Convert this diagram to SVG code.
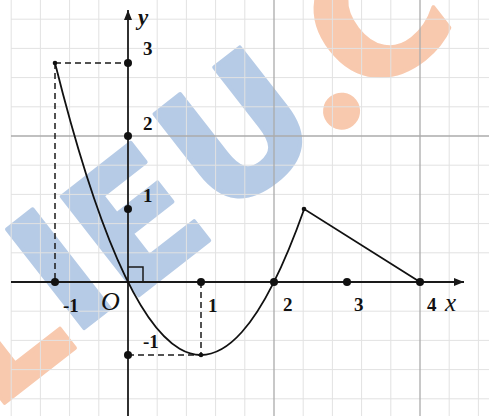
<svg xmlns="http://www.w3.org/2000/svg" width="489" height="416" viewBox="0 0 489 416">
<style>
.minor{stroke:#e2e2e2;stroke-width:1}
.major{stroke:#ababab;stroke-width:1.3}
.axis{stroke:#1a1a1a;stroke-width:1.8;fill:none}
.dash{stroke:#1a1a1a;stroke-width:1.5;stroke-dasharray:6 4;fill:none}
.curve{stroke:#111;stroke-width:1.8;fill:none}
.num{font-family:"Liberation Serif",serif;font-weight:bold;font-size:19px;fill:#111}
.it{font-family:"Liberation Serif",serif;font-style:italic;fill:#111}
.wm{font-family:"DejaVu Sans","Liberation Sans",sans-serif;font-weight:bold;font-size:172px;stroke-width:4;stroke-linejoin:round;text-anchor:middle}
.b{fill:#b6cbe6;stroke:#b6cbe6}
.o{fill:#f8c9ae;stroke:#f8c9ae}
</style>
<defs>
<marker id="arr" viewBox="0 0 10 8" refX="10" refY="4" markerWidth="10" markerHeight="8" markerUnits="userSpaceOnUse" orient="auto">
<path d="M0,0 L10,4 L0,8 Z" fill="#1a1a1a"/>
</marker>
</defs>
<rect width="489" height="416" fill="#fff"/>
<g id="watermark" transform="translate(97,318) rotate(-38)">
<text class="wm o" x="-31" y="10" style="text-anchor:end">L</text>
<text class="wm b" x="0" y="0">I</text>
<text class="wm b" x="90" y="8">E</text>
<text class="wm b" x="225" y="0">U</text>
<text class="wm o" x="320" y="2" style="font-family:'Liberation Serif',serif;font-size:215px;stroke-width:2">.</text>
<text class="wm o" x="341" y="-5" style="text-anchor:start">C</text>
</g>
<g id="grid">
<g class="minor">
<line x1="11.2" y1="0" x2="11.2" y2="416"/><line x1="40.4" y1="0" x2="40.4" y2="416"/><line x1="69.6" y1="0" x2="69.6" y2="416"/><line x1="98.8" y1="0" x2="98.8" y2="416"/>
<line x1="157.2" y1="0" x2="157.2" y2="416"/><line x1="186.4" y1="0" x2="186.4" y2="416"/><line x1="215.6" y1="0" x2="215.6" y2="416"/><line x1="244.8" y1="0" x2="244.8" y2="416"/>
<line x1="303.2" y1="0" x2="303.2" y2="416"/><line x1="332.4" y1="0" x2="332.4" y2="416"/><line x1="361.6" y1="0" x2="361.6" y2="416"/><line x1="390.8" y1="0" x2="390.8" y2="416"/>
<line x1="449.2" y1="0" x2="449.2" y2="416"/><line x1="478.4" y1="0" x2="478.4" y2="416"/>
<line x1="11" y1="19.2" x2="489" y2="19.2"/><line x1="11" y1="48.4" x2="489" y2="48.4"/><line x1="11" y1="77.6" x2="489" y2="77.6"/><line x1="11" y1="106.8" x2="489" y2="106.8"/>
<line x1="11" y1="165.2" x2="489" y2="165.2"/><line x1="11" y1="194.4" x2="489" y2="194.4"/><line x1="11" y1="223.6" x2="489" y2="223.6"/><line x1="11" y1="252.8" x2="489" y2="252.8"/>
<line x1="11" y1="311.2" x2="489" y2="311.2"/><line x1="11" y1="340.4" x2="489" y2="340.4"/><line x1="11" y1="369.6" x2="489" y2="369.6"/><line x1="11" y1="398.8" x2="489" y2="398.8"/>
</g>
<g class="major">
<line x1="274" y1="0" x2="274" y2="416"/><line x1="420" y1="0" x2="420" y2="416"/>
<line x1="11" y1="136" x2="489" y2="136"/>
</g>
</g>
<g id="connectors">
<line class="axis" x1="11" y1="282" x2="464" y2="282" marker-end="url(#arr)"/>
<line class="axis" x1="128" y1="416" x2="128" y2="10" marker-end="url(#arr)"/>
<path class="dash" d="M55,63 H128 M55,63 V282 M128,355 H201 M201,282 V355"/>
<path class="axis" style="stroke-width:1.5" d="M128,267 H143 V282"/>
<path class="curve" d="M55,63 Q179.6,561.4 304.2,209 L420,282"/>
</g>
<g id="points" fill="#111">
<circle cx="128" cy="63" r="4"/><circle cx="128" cy="136" r="4"/><circle cx="128" cy="209" r="4"/><circle cx="128" cy="355" r="4"/>
<circle cx="55" cy="282" r="4"/><circle cx="201" cy="282" r="4"/><circle cx="274" cy="282" r="4"/><circle cx="347" cy="282" r="4"/><circle cx="420" cy="282" r="4"/>
<circle cx="55" cy="63" r="2.3"/><circle cx="201" cy="355" r="2.3"/><circle cx="304" cy="209" r="2.3"/>
</g>
<g id="labels">
<text class="it" x="138" y="25" style="font-size:23px;font-weight:bold">y</text>
<text class="num" x="143" y="55">3</text>
<text class="num" x="143" y="130">2</text>
<text class="num" x="143" y="202">1</text>
<text class="num" x="63" y="312">-1</text>
<text class="it" x="101" y="310" style="font-size:26px">O</text>
<text class="num" x="208" y="312">1</text>
<text class="num" x="143" y="348">-1</text>
<text class="num" x="283" y="311">2</text>
<text class="num" x="354" y="311">3</text>
<text class="num" x="427" y="311">4</text>
<text class="it" x="445" y="311" style="font-size:25px">x</text>
</g>
</svg>
